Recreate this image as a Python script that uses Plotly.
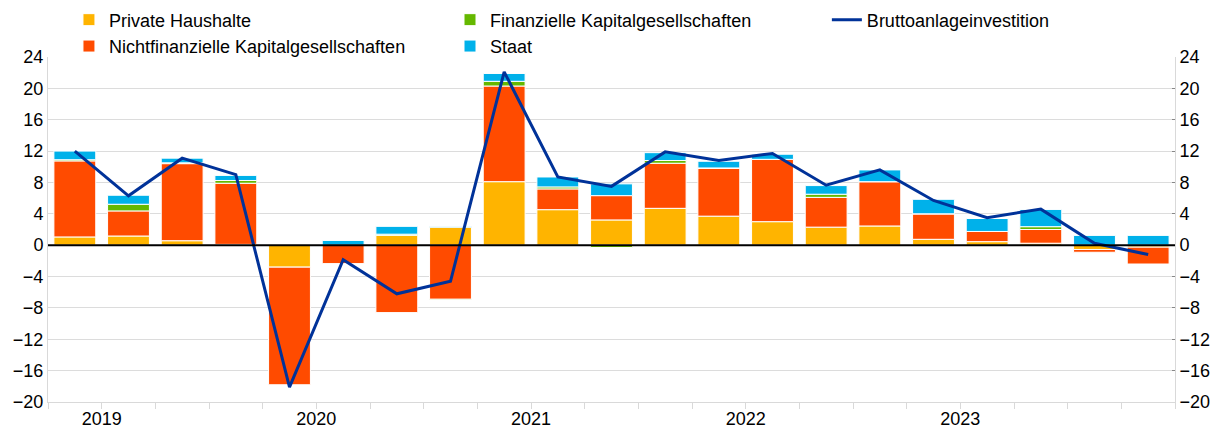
import plotly.graph_objects as go

quarters = ["2019Q2", "2019Q3", "2019Q4", "2020Q1", "2020Q2", "2020Q3", "2020Q4",
            "2021Q1", "2021Q2", "2021Q3", "2021Q4", "2022Q1", "2022Q2", "2022Q3",
            "2022Q4", "2023Q1", "2023Q2", "2023Q3", "2023Q4", "2024Q1", "2024Q2"]

private_haushalte = [1.05, 1.17, 0.57, 0.10, -2.80, 0.00, 1.25, 2.30, 8.10, 4.53, 3.22,
                     4.70, 3.70, 3.00, 2.30, 2.45, 0.75, 0.45, 0.25, -0.55, -0.25]
nichtfin_kapges = [9.70, 3.20, 9.83, 7.80, -15.00, -2.35, -8.60, -6.90, 12.20, 2.65, 3.10,
                   5.75, 6.10, 7.95, 3.80, 5.65, 3.25, 1.30, 1.75, -0.35, -2.15]
fin_kapges = [0.15, 0.85, 0.10, 0.35, 0.00, 0.00, 0.15, -0.10, 0.60, 0.25, -0.30,
              0.35, 0.05, 0.00, 0.40, 0.00, 0.00, 0.00, 0.36, 0.00, 0.00]
staat = [1.10, 1.15, 0.60, 0.65, 0.00, 0.60, 1.00, 0.10, 1.00, 1.27, 1.50,
         1.00, 0.85, 0.65, 1.10, 1.50, 1.85, 1.65, 2.20, 1.25, 1.25]
bruttoanlageinvestition = [12.0, 6.3, 11.1, 9.0, -18.1, -1.85, -6.2, -4.6, 22.1, 8.7, 7.5,
                           11.9, 10.8, 11.7, 7.65, 9.6, 5.7, 3.5, 4.6, 0.25, -1.2]

year_labels = ["2019", "2020", "2021", "2022", "2023"]
year_label_pos = [0.5, 4.5, 8.5, 12.5, 16.5]
y_ticks = list(range(-20, 25, 4))

x = list(range(len(quarters)))

FONT = "Liberation Sans, Arial, sans-serif"
FS = 18
fig = go.Figure()

series = [
    ("Private Haushalte", private_haushalte, "#FFB400", "legend", 1),
    ("Nichtfinanzielle Kapitalgesellschaften", nichtfin_kapges, "#FF4B00", "legend", 2),
    ("Finanzielle Kapitalgesellschaften", fin_kapges, "#65B800", "legend2", 1),
    ("Staat", staat, "#00B1EA", "legend2", 2),
]
for name, vals, col, leg, rank in series:
    fig.add_trace(go.Bar(
        x=x, y=vals, name=name, marker=dict(color=col, line=dict(color="white", width=1)),
        width=0.78, legend=leg, legendrank=rank, customdata=quarters,
        hovertemplate="%{customdata}: %{y}<extra>" + name + "</extra>",
    ))

fig.add_trace(go.Scatter(
    x=x, y=bruttoanlageinvestition, name="Bruttoanlageinvestition", mode="lines",
    line=dict(color="#003299", width=3), yaxis="y2", legend="legend3",
    customdata=quarters, hovertemplate="%{customdata}: %{y}<extra></extra>",
))

leg_common = dict(orientation="h", y=1.161, xanchor="left", yanchor="top",
                  font=dict(size=FS), traceorder="normal", bgcolor="rgba(0,0,0,0)",
                  entrywidth=600)

fig.update_layout(
    width=1216, height=420,
    margin=dict(l=40, r=49, t=49, b=26, autoexpand=False),
    barmode="relative",
    paper_bgcolor="white", plot_bgcolor="white",
    font=dict(family=FONT, size=FS, color="#000000"),
    legend=dict(x=0.0186, **leg_common),
    legend2=dict(x=0.3567, **leg_common),
    legend3=dict(x=0.6911, **leg_common),
    xaxis=dict(range=[-0.5, len(quarters) - 0.5], tickmode="array",
               tickvals=year_label_pos, ticktext=year_labels, ticks="",
               showgrid=False, zeroline=False, showline=True,
               linecolor="#d9d9d9", linewidth=1,
               minor=dict(tickmode="linear", tick0=-0.5, dtick=1, ticks="outside",
                          ticklen=6, tickcolor="#d9d9d9", showgrid=False),
               tickfont=dict(size=FS)),
    yaxis=dict(range=[-20, 24], tickmode="array", tickvals=y_ticks,
               showgrid=True, gridcolor="#dcdcdc", gridwidth=1,
               zeroline=False, showline=True, linecolor="#d9d9d9",
               ticks="", tickfont=dict(size=FS)),
    yaxis2=dict(range=[-20, 24], tickmode="array", tickvals=y_ticks,
                overlaying="y", side="right", showgrid=False, zeroline=False,
                showline=True, linecolor="#d9d9d9", ticks="inside", ticklen=3,
                tickcolor="#888888", tickfont=dict(size=FS)),
    shapes=[dict(type="line", xref="paper", x0=0, x1=1, yref="y", y0=0, y1=0,
                 line=dict(color="black", width=2), layer="above")],
)

fig.write_html("out.html")
